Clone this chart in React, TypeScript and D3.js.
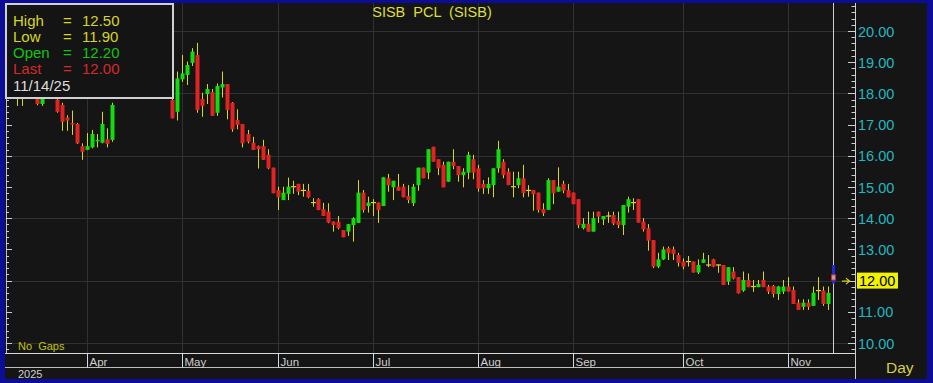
import React from 'react';
import * as d3 from 'd3';

// ---- Data ----
const opens = [
  18.10, 18.20, 17.90, 17.95, 18.10, 17.95, 17.66, 17.90, 18.00, 17.80,
  17.63, 17.23, 17.05, 17.02, 16.31, 16.19, 16.27, 16.48, 16.42, 16.53,
  16.51, 17.95, 18.20, 18.40, 18.30, 18.10, 18.30, 18.60, 18.40, 18.10,
  18.20, 18.10, 17.79, 17.41, 18.45, 18.59, 18.98, 19.23, 17.82, 17.98,
  18.04, 17.38, 18.19, 18.30, 17.70, 17.15, 17.02, 16.70, 16.42, 16.31,
  16.31, 16.03, 15.62, 14.90, 14.58, 14.78, 15.00, 15.10, 14.89, 14.88,
  14.50, 14.61, 14.29, 14.21, 13.89, 13.89, 13.62, 13.57, 13.78, 13.85,
  14.82, 14.39, 14.50, 14.50, 14.39, 15.28, 14.99, 15.01, 15.01, 14.71,
  14.48, 15.06, 15.62, 15.46, 16.29, 15.89, 15.71, 15.17, 15.81, 15.67,
  15.38, 15.46, 15.89, 15.60, 15.10, 14.96, 15.06, 15.60, 15.81, 15.49,
  15.01, 15.06, 15.28, 14.88, 14.90, 14.82, 14.29, 14.27, 15.22, 14.85,
  15.10, 14.90, 14.82, 14.61, 13.68, 13.82, 13.57, 14.21, 13.96, 14.07,
  14.10, 13.92, 13.78, 14.37, 14.50, 14.61, 13.89, 13.68, 13.30, 12.45,
  12.68, 13.04, 13.00, 12.82, 12.61, 12.61, 12.61, 12.26, 12.57, 12.50,
  12.68, 12.50, 12.50, 11.97, 12.29, 12.11, 11.68, 12.02, 11.81, 11.79,
  12.02, 11.81, 11.83, 11.57, 11.65, 11.81, 11.70, 11.29, 11.16, 11.29,
  11.19, 11.68, 11.68, 11.25, 12.20,
];
const highs = [
  18.30, 18.40, 18.10, 18.20, 18.20, 18.00, 18.00, 18.10, 18.05, 17.95,
  17.70, 17.30, 17.45, 17.05, 16.40, 16.73, 16.83, 16.70, 17.41, 16.88,
  17.70, 18.30, 18.50, 18.60, 18.50, 18.40, 18.70, 18.80, 18.50, 18.30,
  18.40, 18.20, 17.85, 18.70, 19.23, 19.02, 19.45, 19.62, 18.02, 18.30,
  18.14, 18.32, 18.70, 18.30, 17.72, 17.49, 17.02, 16.83, 16.61, 16.33,
  16.51, 16.21, 15.62, 15.01, 15.01, 15.30, 15.20, 15.10, 15.10, 15.10,
  14.64, 14.64, 14.49, 14.48, 13.90, 14.07, 13.62, 13.81, 14.03, 15.22,
  14.90, 14.69, 14.61, 14.50, 15.31, 15.42, 15.20, 15.42, 15.10, 15.06,
  15.10, 15.62, 15.62, 16.21, 16.29, 15.89, 15.81, 15.81, 16.21, 15.67,
  15.60, 16.13, 16.03, 15.71, 15.22, 15.31, 15.60, 16.48, 15.89, 15.60,
  15.49, 15.49, 15.71, 15.06, 14.90, 14.82, 14.48, 15.28, 15.22, 15.63,
  15.20, 15.10, 14.82, 14.61, 14.00, 14.21, 14.21, 14.21, 14.07, 14.21,
  14.21, 14.21, 14.42, 14.69, 14.64, 14.61, 14.00, 13.81, 13.30, 12.89,
  13.09, 13.09, 13.09, 12.89, 12.71, 12.79, 12.61, 12.68, 12.89, 12.82,
  12.70, 12.52, 12.50, 12.43, 12.43, 12.11, 12.29, 12.23, 12.02, 12.02,
  12.29, 11.86, 11.86, 11.83, 12.02, 12.11, 11.81, 11.40, 11.40, 11.40,
  11.81, 12.11, 11.81, 11.81, 12.50,
];
const lows = [
  17.90, 17.60, 17.60, 17.90, 17.90, 17.62, 17.60, 17.86, 17.90, 17.38,
  16.80, 16.80, 16.67, 16.38, 15.87, 16.18, 16.24, 16.27, 16.40, 16.27,
  16.45, 17.90, 18.10, 18.20, 18.00, 18.00, 18.20, 18.30, 18.00, 17.95,
  18.00, 17.90, 17.20, 17.13, 18.37, 18.27, 18.88, 17.38, 17.25, 17.66,
  17.28, 17.28, 17.87, 17.17, 16.77, 16.85, 16.27, 16.40, 16.19, 15.59,
  15.87, 15.57, 14.80, 14.26, 14.58, 14.58, 14.78, 14.74, 14.69, 14.64,
  14.37, 14.26, 14.07, 13.84, 13.57, 13.64, 13.39, 13.43, 13.25, 13.85,
  14.18, 14.18, 14.07, 13.85, 14.39, 14.85, 14.58, 14.88, 14.67, 14.48,
  14.39, 14.88, 15.28, 15.25, 15.81, 15.38, 14.99, 15.17, 15.57, 15.17,
  14.99, 15.25, 15.25, 14.85, 14.78, 14.78, 14.67, 15.46, 15.28, 15.06,
  14.67, 14.96, 14.67, 14.69, 14.24, 14.18, 14.07, 14.27, 14.45, 14.85,
  14.80, 14.67, 14.45, 13.68, 13.64, 13.57, 13.57, 13.85, 13.78, 13.85,
  13.78, 13.68, 13.46, 14.18, 14.26, 13.86, 13.57, 12.96, 12.40, 12.40,
  12.66, 12.66, 12.66, 12.45, 12.36, 12.45, 12.26, 12.21, 12.57, 12.43,
  12.43, 12.25, 11.86, 11.86, 12.04, 11.59, 11.64, 11.79, 11.64, 11.79,
  11.79, 11.57, 11.46, 11.38, 11.57, 11.65, 11.25, 11.06, 11.06, 11.06,
  11.19, 11.38, 11.19, 11.06, 11.90,
];
const closes = [
  18.20, 17.90, 17.95, 18.10, 17.95, 17.66, 17.90, 18.00, 17.95, 17.41,
  17.09, 17.13, 17.03, 16.40, 16.13, 16.31, 16.70, 16.51, 17.02, 16.38,
  17.63, 18.20, 18.40, 18.30, 18.10, 18.30, 18.60, 18.40, 18.10, 18.20,
  18.10, 18.00, 17.20, 18.48, 18.64, 18.91, 19.34, 17.47, 17.60, 18.14,
  17.28, 18.24, 18.30, 17.47, 16.85, 16.99, 16.40, 16.45, 16.19, 16.21,
  15.87, 15.60, 14.80, 14.67, 14.82, 15.01, 15.01, 14.85, 14.88, 14.67,
  14.49, 14.26, 14.07, 13.86, 13.78, 13.68, 13.39, 13.81, 14.00, 14.82,
  14.26, 14.50, 14.49, 14.26, 15.31, 15.06, 15.20, 14.88, 14.67, 14.58,
  15.01, 15.62, 15.28, 16.21, 15.81, 15.60, 14.99, 15.81, 15.67, 15.38,
  15.49, 16.03, 15.46, 14.95, 14.96, 15.10, 15.60, 16.21, 15.38, 15.06,
  15.00, 15.28, 14.80, 14.89, 14.77, 14.26, 14.16, 15.22, 14.80, 15.01,
  14.88, 14.67, 14.45, 13.78, 13.82, 13.57, 14.00, 14.05, 14.07, 14.06,
  13.83, 13.78, 14.42, 14.61, 14.49, 13.86, 13.64, 13.28, 12.45, 12.68,
  13.00, 12.88, 12.85, 12.57, 12.45, 12.60, 12.26, 12.50, 12.68, 12.49,
  12.45, 12.49, 11.86, 12.43, 12.07, 11.59, 12.02, 11.79, 11.80, 11.89,
  11.79, 11.65, 11.57, 11.81, 11.81, 11.65, 11.25, 11.06, 11.29, 11.16,
  11.61, 11.67, 11.25, 11.61, 12.00,
];

const monthLabels = ['Apr', 'May', 'Jun', 'Jul', 'Aug', 'Sep', 'Oct', 'Nov'];
const monthStartIdx = [15, 34, 53, 72, 93, 112, 134, 155];
const priceLabels = [10, 11, 12, 13, 14, 15, 16, 17, 18, 19, 20];
const gridPrices = [10, 12, 14, 16, 18, 20];
const yearLabel = '2025';
const titleText = 'SISB  PCL  (SISB)';
const infoRows = [
  { label: 'High', value: '12.50', color: '#d6d622' },
  { label: 'Low', value: '11.90', color: '#d6d622' },
  { label: 'Open', value: '12.20', color: '#12c412' },
  { label: 'Last', value: '12.00', color: '#d42a2a' },
];
const infoDate = '11/14/25';
const lastPrice = 12.0;

const W = 933;
const H = 383;
const FONT = '"Liberation Sans", Arial, sans-serif';

export default function App() {
  const N = opens.length;
  const x = d3.scaleLinear().domain([0, N - 1]).range([12.3, 833]);
  const y = d3.scaleLinear().domain([10, 20]).range([343, 31]);

  const plotLeft = 5;
  const plotRight = 855;
  const plotTop = 3;
  const plotBottom = 353;

  const minorTicks = d3.range(98, 209, 2).map((v) => v / 10);

  const bodyW = 4;
  const candles = d3.range(N - 1).map((i) => {
    const o = opens[i], c = closes[i], h = highs[i], l = lows[i];
    const cx = Math.round(x(i)) + 0.5;
    const doji = Math.abs(o - c) < 0.015;
    const top = y(Math.max(o, c));
    const bot = y(Math.min(o, c));
    return (
      <g key={i}>
        <line x1={cx} x2={cx} y1={y(h)} y2={y(l)} stroke="#d8d820" strokeWidth={1} />
        {doji ? (
          <line x1={cx - 2.5} x2={cx + 2.5} y1={top} y2={top} stroke="#d8d820" strokeWidth={1.2} />
        ) : (
          <rect
            x={cx - bodyW / 2}
            y={top}
            width={bodyW}
            height={Math.max(1.5, bot - top)}
            fill={c > o ? '#10dc10' : '#e02424'}
          />
        )}
      </g>
    );
  });

  const li = N - 1;
  const lx = Math.round(x(li)) + 0.5;

  return (
    <svg
      width={W}
      height={H}
      style={{ position: 'absolute', left: 0, top: 0, display: 'block' }}
      fontFamily={FONT}
    >
      {/* Blue frame */}
      <rect x={0} y={0} width={W} height={H} fill="#0c0c96" />
      <rect x={5} y={3} width={W - 11} height={H - 7} fill="#151515" />

      {/* Grid */}
      {gridPrices.map((p) => (
        <line key={'hg' + p} x1={plotLeft} x2={plotRight} y1={Math.round(y(p)) + 0.5} y2={Math.round(y(p)) + 0.5} stroke="#313131" strokeWidth={1} />
      ))}
      {monthStartIdx.map((mi) => (
        <line key={'vg' + mi} x1={Math.round(x(mi)) + 0.5} x2={Math.round(x(mi)) + 0.5} y1={plotTop} y2={plotBottom} stroke="#313131" strokeWidth={1} />
      ))}

      {/* Title */}
      <text x={432} y={16.5} textAnchor="middle" fill="#dede3a" fontSize={14.5} style={{ whiteSpace: 'pre' }}>
        {titleText}
      </text>

      {/* Cursor line */}
      <line x1={lx} x2={lx} y1={plotTop} y2={plotBottom} stroke="#cfcfcf" strokeWidth={1} />

      {/* Candles */}
      {candles}

      {/* Last (selected) candle */}
      <rect x={lx - 1.5} y={y(highs[li])} width={3} height={y(lows[li]) - y(highs[li])} fill="#1c2ad8" />
      <rect x={lx - 2.5} y={y(opens[li])} width={5} height={y(closes[li]) - y(opens[li])} fill="#d42a2a" />
      <rect x={lx - 1.5} y={y(opens[li]) + 1} width={3} height={y(closes[li]) - y(opens[li]) - 2} fill="#a8a8a8" />

      {/* Left ticks */}
      <line x1={6.5} x2={6.5} y1={plotTop} y2={plotBottom} stroke="#bdbdbd" strokeWidth={1} />
      {minorTicks.map((t) => {
        const major = Math.abs(t - Math.round(t)) < 1e-6;
        const yy = Math.round(y(t)) + 0.5;
        return <line key={'lt' + t} x1={6} x2={major ? 12 : 9} y1={yy} y2={yy} stroke="#cfcfcf" strokeWidth={1} />;
      })}

      {/* Right axis */}
      <line x1={plotRight + 0.5} x2={plotRight + 0.5} y1={plotTop} y2={H - 4} stroke="#cfcfcf" strokeWidth={1} />
      {minorTicks.map((t) => {
        const major = Math.abs(t - Math.round(t)) < 1e-6;
        const yy = Math.round(y(t)) + 0.5;
        return <line key={'rt' + t} x1={major ? 848 : 851.5} x2={plotRight} y1={yy} y2={yy} stroke="#cfcfcf" strokeWidth={1} />;
      })}
      {priceLabels.map((p) => (
        <text key={'pl' + p} x={858} y={y(p) + 5.5} fill="#22b8c0" fontSize={14.5}>
          {p.toFixed(2)}
        </text>
      ))}

      {/* Last price marker */}
      <path d={`M842,${y(lastPrice) + 0.5} L849,${y(lastPrice) + 0.5} M846,${y(lastPrice) - 2.5} L849.5,${y(lastPrice) + 0.5} L846,${y(lastPrice) + 3.5}`} stroke="#e0d020" strokeWidth={1.2} fill="none" />
      <rect x={857} y={y(lastPrice) - 8} width={41} height={16} fill="#f2f200" />
      <text x={859} y={y(lastPrice) + 5.5} fill="#000" fontSize={14.5}>
        {lastPrice.toFixed(2)}
      </text>

      {/* Bottom axis */}
      <line x1={plotLeft} x2={plotRight} y1={353.5} y2={353.5} stroke="#d8d8d8" strokeWidth={1} />
      <line x1={plotLeft} x2={plotRight} y1={367.5} y2={367.5} stroke="#bdbdbd" strokeWidth={1} />
      {monthStartIdx.map((mi, k) => {
        const mx = Math.round(x(mi)) + 0.5;
        return (
          <g key={'ml' + mi}>
            <line x1={mx} x2={mx} y1={353.5} y2={367.5} stroke="#d8d8d8" strokeWidth={1} />
            <text x={mx + 2} y={366} fill="#cfcfcf" fontSize={11.5}>
              {monthLabels[k]}
            </text>
          </g>
        );
      })}
      <text x={18} y={378} fill="#cfcfcf" fontSize={11}>
        {yearLabel}
      </text>
      <text x={18} y={350} fill="#c4c400" fontSize={11} style={{ whiteSpace: 'pre' }}>
        {'No  Gaps'}
      </text>
      <text x={886} y={373} fill="#d4d048" fontSize={15.5}>
        Day
      </text>

      {/* Info box */}
      <rect x={6} y={4} width={167} height={94} fill="#141414" stroke="#d0d0d0" strokeWidth={2} />
      {infoRows.map((r, k) => (
        <g key={r.label} fill={r.color} fontSize={15}>
          <text x={13} y={25.5 + k * 16.3}>{r.label}</text>
          <text x={63} y={25.5 + k * 16.3}>=</text>
          <text x={82} y={25.5 + k * 16.3}>{r.value}</text>
        </g>
      ))}
      <text x={13} y={91} fill="#dedede" fontSize={15}>
        {infoDate}
      </text>
    </svg>
  );
}
